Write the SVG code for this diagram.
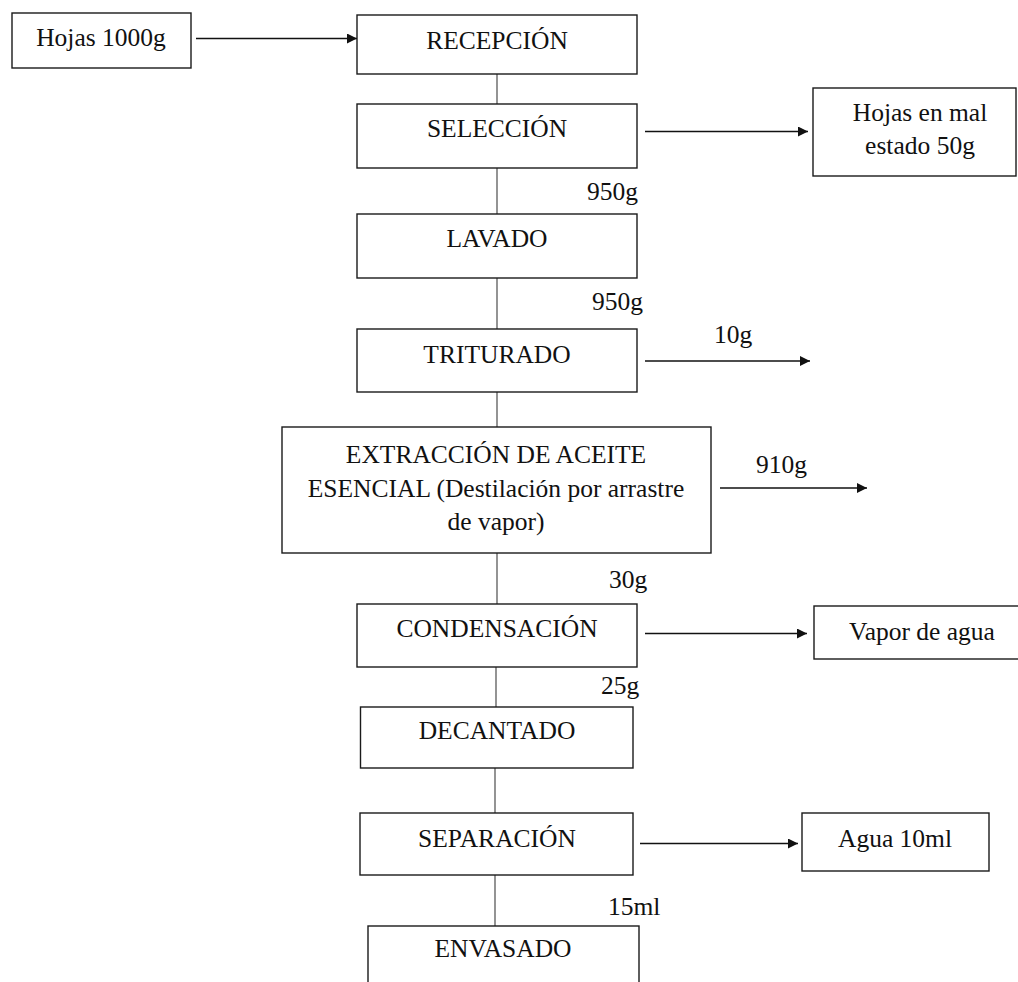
<svg xmlns="http://www.w3.org/2000/svg" width="1018" height="982" viewBox="0 0 1018 982">
<style>
.box{fill:#fff;stroke:#1a1a1a;stroke-width:1.4}
text{font-family:'Liberation Serif','Times New Roman',serif;font-size:25.5px;fill:#111}
.t{text-anchor:middle}
.v{stroke:#666;stroke-width:1.4;fill:none}
.a{stroke:#111;stroke-width:1.4;fill:none;marker-end:url(#ah)}
</style>
<defs>
<marker id="ah" viewBox="0 0 10 10" refX="10" refY="5" markerWidth="11" markerHeight="10" markerUnits="userSpaceOnUse" orient="auto">
<path d="M0,0 L10,5 L0,10 z" fill="#111"/>
</marker>
</defs>
<rect width="1018" height="982" fill="#fff"/>
<g id="connectors">
<line class="a" x1="196" y1="38.5" x2="357" y2="38.5"/>
<line class="v" x1="497" y1="74" x2="497" y2="104"/>
<line class="a" x1="645" y1="131.5" x2="808" y2="131.5"/>
<line class="v" x1="497" y1="168" x2="497" y2="214"/>
<line class="v" x1="497" y1="278" x2="497" y2="329"/>
<line class="a" x1="645" y1="361" x2="810" y2="361"/>
<line class="v" x1="497" y1="392" x2="497" y2="427"/>
<line class="a" x1="720" y1="488" x2="867" y2="488"/>
<line class="v" x1="497" y1="553" x2="497" y2="604"/>
<line class="a" x1="645" y1="633.5" x2="807" y2="633.5"/>
<line class="v" x1="496" y1="667" x2="496" y2="707"/>
<line class="v" x1="495" y1="768" x2="495" y2="813"/>
<line class="a" x1="640" y1="843.5" x2="798" y2="843.5"/>
<line class="v" x1="495" y1="875" x2="495" y2="926"/>
<text x="587" y="200">950g</text>
<text x="592" y="310">950g</text>
<text x="714" y="343">10g</text>
<text x="756" y="473">910g</text>
<text x="609" y="588">30g</text>
<text x="601" y="694">25g</text>
<text x="608" y="915">15ml</text>
</g>
<g id="hojas"><rect class="box" x="12" y="13" width="179" height="55"/><text class="t" x="101" y="46">Hojas 1000g</text></g>
<g id="recepcion"><rect class="box" x="357" y="15" width="280" height="59"/><text class="t" x="497" y="49">RECEPCIÓN</text></g>
<g id="seleccion"><rect class="box" x="357" y="104" width="280" height="64"/><text class="t" x="497" y="137">SELECCIÓN</text></g>
<g id="malestado"><rect class="box" x="813" y="88" width="203" height="88"/><text class="t" x="920" y="120.5">Hojas en mal</text><text class="t" x="920" y="153.5">estado 50g</text></g>
<g id="lavado"><rect class="box" x="357" y="214" width="280" height="64"/><text class="t" x="497" y="246.5">LAVADO</text></g>
<g id="triturado"><rect class="box" x="357" y="329" width="280" height="63"/><text class="t" x="497" y="363">TRITURADO</text></g>
<g id="extraccion"><rect class="box" x="282" y="427" width="429" height="126"/><text class="t" x="496" y="463">EXTRACCIÓN DE ACEITE</text><text class="t" x="496" y="497">ESENCIAL (Destilación por arrastre</text><text class="t" x="496" y="530">de vapor)</text></g>
<g id="condensacion"><rect class="box" x="357" y="604" width="280" height="63"/><text class="t" x="497" y="637">CONDENSACIÓN</text></g>
<g id="vapor"><rect class="box" x="814" y="606" width="216" height="53"/><text class="t" x="922" y="640">Vapor de agua</text></g>
<g id="decantado"><rect class="box" x="360.5" y="707" width="272.5" height="61"/><text class="t" x="497" y="739">DECANTADO</text></g>
<g id="separacion"><rect class="box" x="360" y="813" width="273" height="62"/><text class="t" x="497" y="846.5">SEPARACIÓN</text></g>
<g id="agua"><rect class="box" x="802" y="813" width="187" height="58"/><text class="t" x="895" y="846.5">Agua 10ml</text></g>
<g id="envasado"><rect class="box" x="368" y="926" width="271" height="70"/><text class="t" x="503" y="957">ENVASADO</text></g>
</svg>
